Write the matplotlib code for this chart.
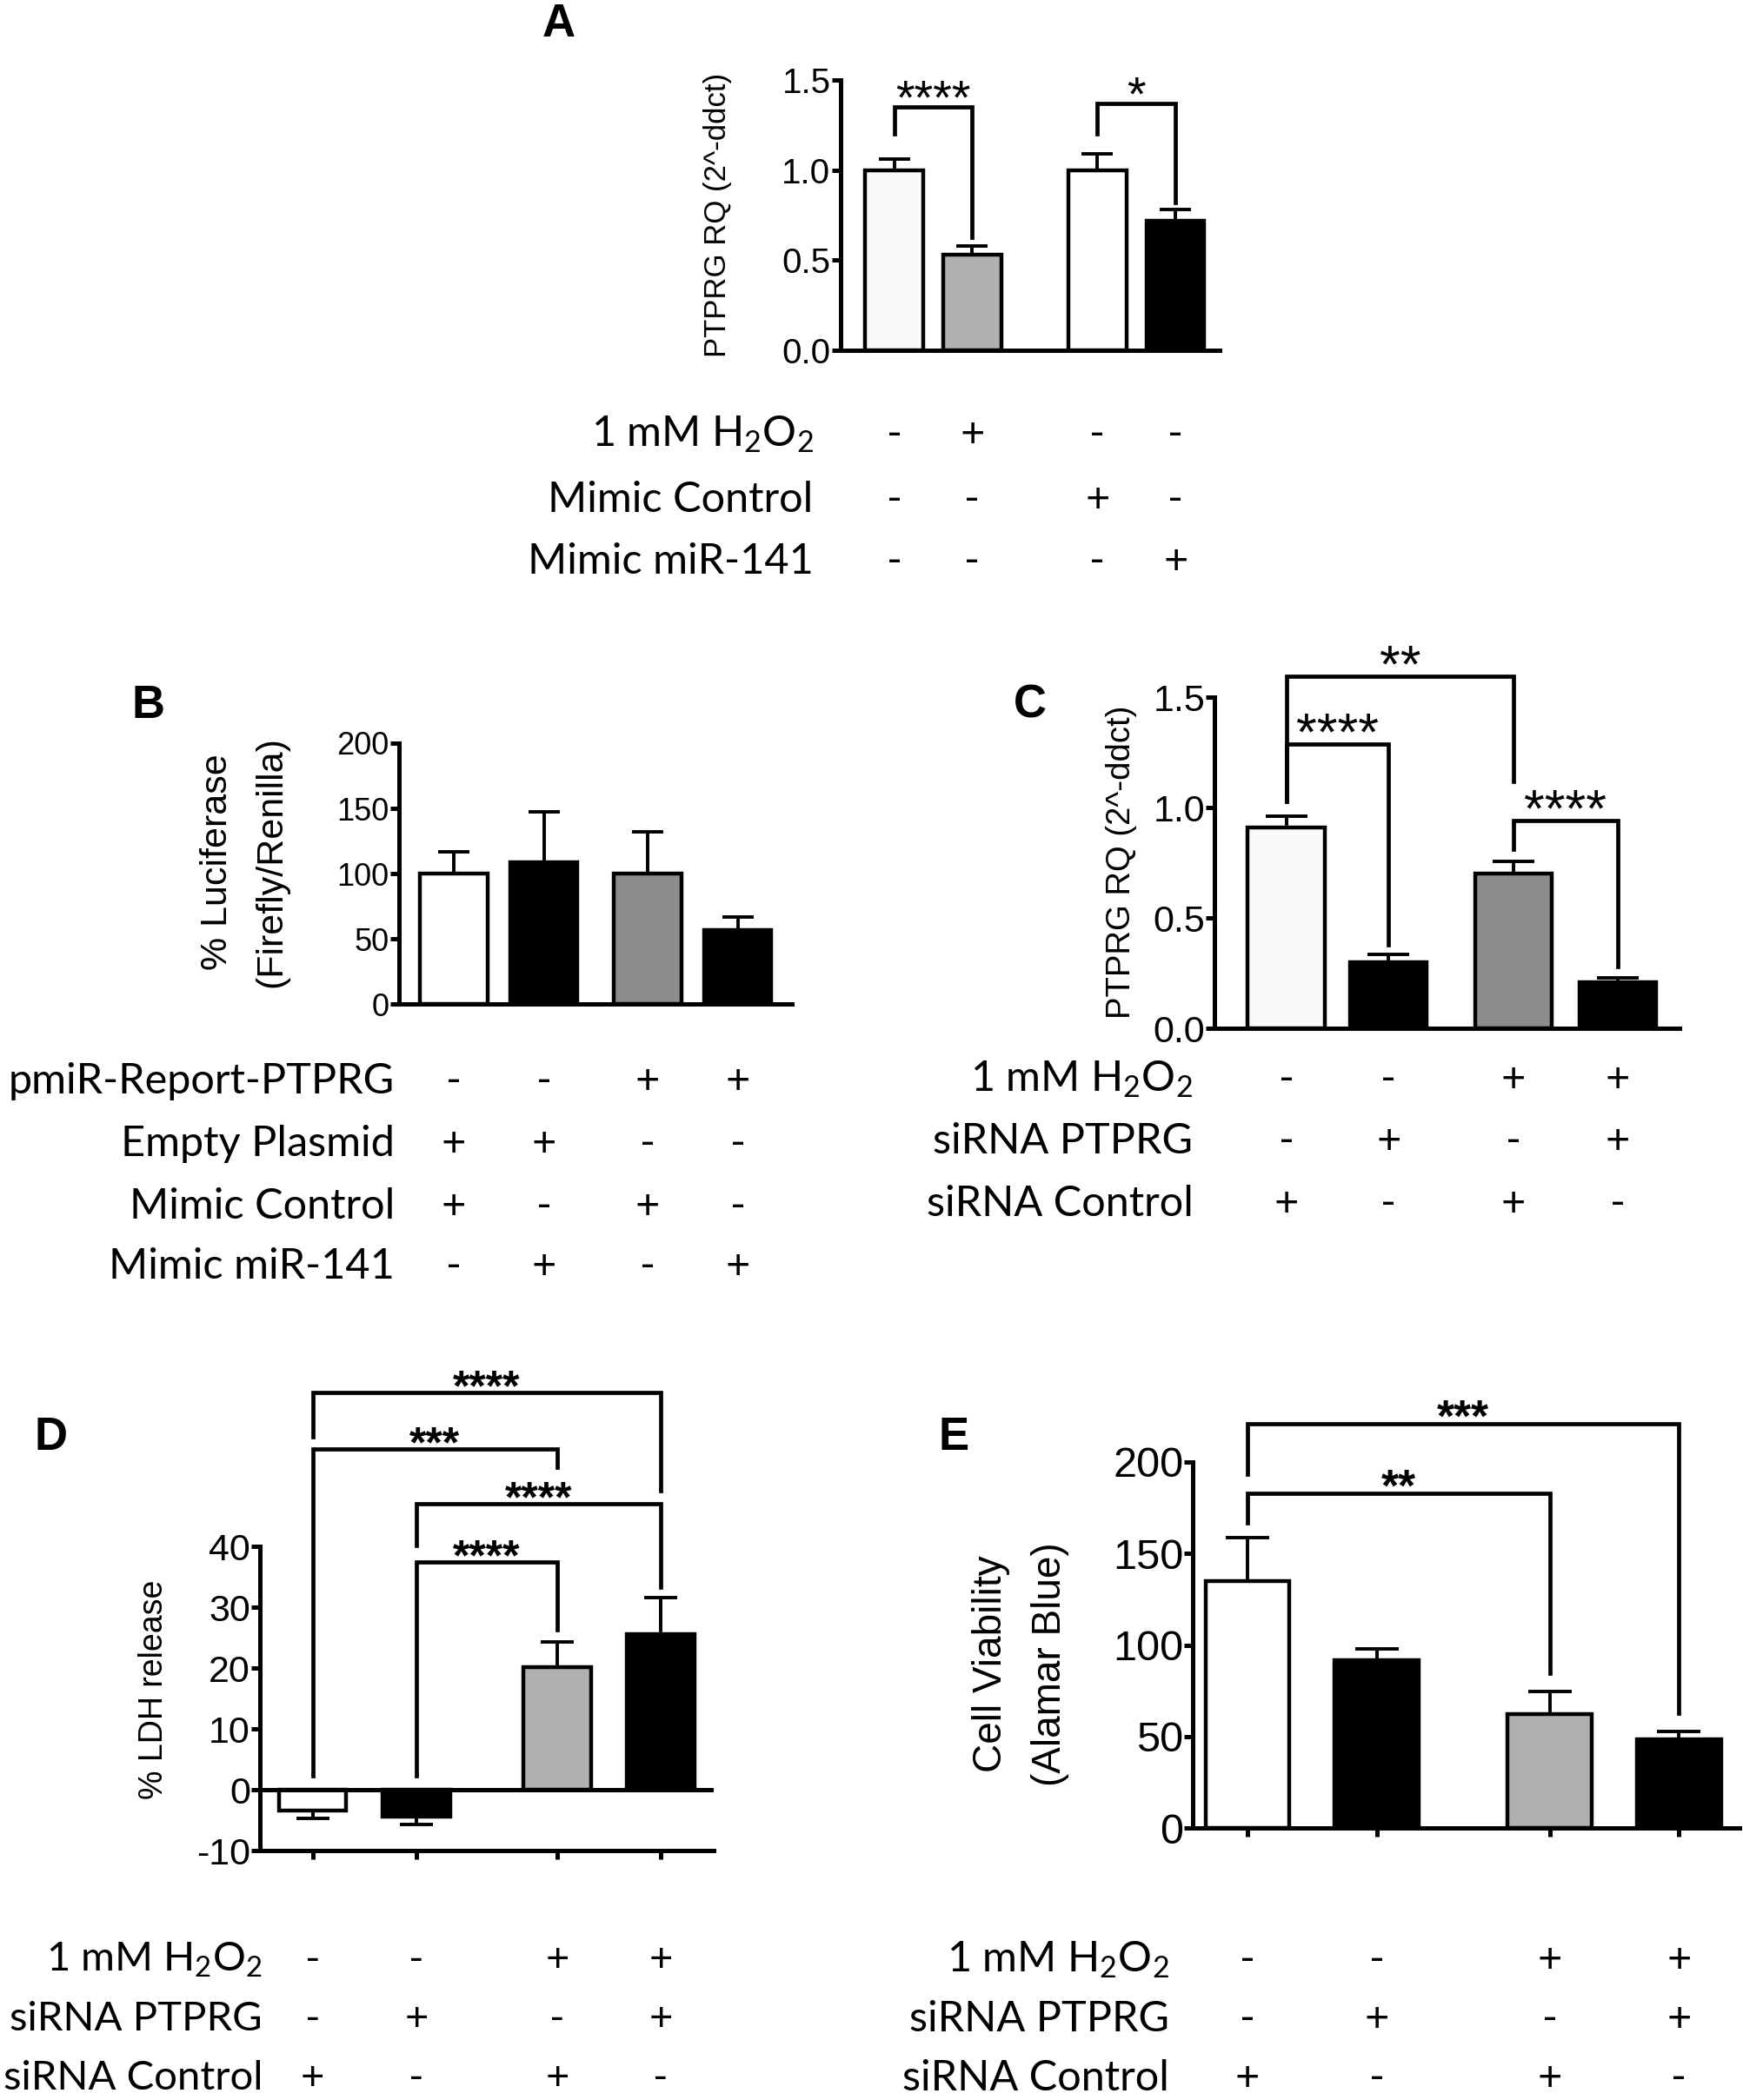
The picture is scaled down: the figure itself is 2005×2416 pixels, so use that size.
import numpy as np
import matplotlib
matplotlib.use("Agg")
import matplotlib.pyplot as plt
import matplotlib.transforms as mtransforms

plt.rcParams['mathtext.default'] = 'regular'

SANS = ['Liberation Sans', 'DejaVu Sans']
COND = ['Lato', 'Open Sans', 'DejaVu Sans']

# ---- data ----
# Panel A
a_pos = [0, 1, 2.6, 3.6]
a_vals = [1.0, 0.53, 1.0, 0.72]
a_err = [0.06, 0.05, 0.09, 0.06]
a_colors = ['#fafafa', '#b0b0b0', '#ffffff', '#000000']
a_rows = ["1 mM H$_2$O$_2$", "Mimic Control", "Mimic miR-141"]
a_signs = [['-', '+', '-', '-'], ['-', '-', '+', '-'], ['-', '-', '-', '+']]
a_brackets = [(0, 1, 1.35, 1.2, 0.625, '****'), (2, 3, 1.37, 1.2, 0.82, '*')]

# Panel B
b_pos = [0, 1, 2.15, 3.15]
b_vals = [100, 109, 100, 57]
b_err = [16.5, 38.5, 32, 10]
b_colors = ['#ffffff', '#000000', '#8c8c8c', '#000000']
b_rows = ["pmiR-Report-PTPRG", "Empty Plasmid", "Mimic Control", "Mimic miR-141"]
b_signs = [['-', '-', '+', '+'], ['+', '+', '-', '-'], ['+', '-', '+', '-'], ['-', '+', '-', '+']]

# Panel C
c_pos = [0, 1, 2.22, 3.24]
c_vals = [0.91, 0.30, 0.70, 0.21]
c_err = [0.05, 0.035, 0.055, 0.02]
c_colors = ['#fafafa', '#000000', '#8c8c8c', '#000000']
c_rows = ["1 mM H$_2$O$_2$", "siRNA PTPRG", "siRNA Control"]
c_signs = [['-', '-', '+', '+'], ['-', '+', '-', '+'], ['+', '-', '+', '-']]
c_brackets = [(0, 2, 1.594, 1.03, 1.12, '**'), (0, 1, 1.29, 1.03, 0.38, '****'),
              (2, 3, 0.94, 0.81, 0.28, '****')]

# Panel D
d_pos = [0, 1, 2.36, 3.36]
d_vals = [-3.4, -4.4, 20.2, 25.6]
d_err = [1.3, 1.2, 4.1, 6.0]
d_colors = ['#ffffff', '#000000', '#b0b0b0', '#000000']
d_rows = ["1 mM H$_2$O$_2$", "siRNA PTPRG", "siRNA Control"]
d_signs = [['-', '-', '+', '+'], ['-', '+', '-', '+'], ['+', '-', '+', '-']]
d_brackets = [(0, 3, 65.4, 58.1, 49.2, '****'), (0, 2, 56.1, 2.4, 53.0, '***'),
              (1, 3, 47.1, 40.2, 33.3, '****'), (1, 2, 37.5, 2.4, 26.3, '****')]

# Panel E
e_pos = [0, 1, 2.34, 3.34]
e_vals = [134.8, 91.5, 62.3, 48.6]
e_err = [23.8, 6.3, 12.1, 4.2]
e_colors = ['#ffffff', '#000000', '#b0b0b0', '#000000']
e_rows = ["1 mM H$_2$O$_2$", "siRNA PTPRG", "siRNA Control"]
e_signs = [['-', '-', '+', '+'], ['-', '+', '-', '+'], ['+', '-', '+', '-']]
e_brackets = [(0, 3, 220.7, 193.3, 62.7, '***'), (0, 2, 182.9, 166.7, 84.7, '**')]

# ---- layout helpers (reference coords, 1295 x 1560) ----
W, H = 1295.0, 1560.0
fig = plt.figure(figsize=(20.06, 24.16), dpi=100)


def make_ax(x0, x1, ytop, ybot):
    return fig.add_axes([x0 / W, 1 - ybot / H, (x1 - x0) / W, (ybot - ytop) / H])


def bar_panel(ax, pos, vals, err, colors, width, ylim, yticks, ticklabels, tsize, capsize):
    ax.bar(pos, vals, width=width, color=colors, edgecolor='black', linewidth=3.2, zorder=3)
    lo = [e if v < 0 else 0 for v, e in zip(vals, err)]
    hi = [0 if v < 0 else e for v, e in zip(vals, err)]
    ax.errorbar(pos, vals, yerr=[lo, hi], fmt='none', ecolor='black', elinewidth=2.8,
                capsize=capsize, capthick=2.8, zorder=2)
    ax.set_ylim(*ylim)
    ax.set_yticks(yticks)
    ax.set_yticklabels(ticklabels, family=SANS, fontsize=tsize)
    for s in ['top', 'right']:
        ax.spines[s].set_visible(False)
    for s in ['left', 'bottom']:
        ax.spines[s].set_linewidth(3.6)
    ax.tick_params(axis='y', length=7, width=3.6, pad=1)
    ax.set_xticks([])


def brackets(ax, pos, brs, size, weight, off=-14):
    for i, j, top, l1, l2, stars in brs:
        ax.plot([pos[i], pos[i], pos[j], pos[j]], [l1, top, top, l2], color='black',
                lw=3.4, clip_on=False, solid_joinstyle='miter', zorder=4)
        ax.annotate(stars, xy=((pos[i] + pos[j]) / 2, top), xytext=(0, off),
                    textcoords='offset points', ha='center', va='bottom',
                    fontsize=size, fontweight=weight, family=SANS, annotation_clip=False)


def conditions(ax, pos, rows, signs, ys, xlab, size):
    tr = mtransforms.blended_transform_factory(ax.transData, fig.transFigure)
    for label, sg, y in zip(rows, signs, ys):
        fig.text(xlab / W, 1 - y / H, label, ha='right', va='center', fontsize=size, family=COND)
        for p, s in zip(pos, sg):
            ax.text(p, 1 - y / H, s, transform=tr, ha='center', va='center',
                    fontsize=size, family=COND, clip_on=False)


def ylabel(x, y, s, size, ls=1.7):
    fig.text(x / W, 1 - y / H, s, rotation=90, ha='center', va='center', fontsize=size,
             family=SANS, linespacing=ls, multialignment='center')


def letter(x, y, s):
    fig.text(x / W, 1 - y / H, s, ha='center', va='center', fontsize=38,
             fontweight='bold', family=SANS)


# ---- Panel A ----
axA = make_ax(624, 906, 59.5, 260)
bar_panel(axA, a_pos, a_vals, a_err, a_colors, 0.74, (0, 1.5), [0, 0.5, 1.0, 1.5],
          ['0.0', '0.5', '1.0', '1.5'], 29, 13)
axA.set_xlim(-0.69, 4.17)
ylabel(533, 160, 'PTPRG RQ (2^-ddct)', 25)
brackets(axA, a_pos, a_brackets, 40, 'normal')
conditions(axA, a_pos, a_rows, a_signs, [323, 371, 417], 604, 35)
letter(415, 18, 'A')

# ---- Panel B ----
axB = make_ax(296, 588, 552, 746)
bar_panel(axB, b_pos, b_vals, b_err, b_colors, 0.75, (0, 200), [0, 50, 100, 150, 200],
          ['0', '50', '100', '150', '200'], 26, 13)
axB.set_xlim(-0.61, 3.75)
ylabel(181.5, 640, '% Luciferase\n(Firefly/Renilla)', 31)
conditions(axB, b_pos, b_rows, b_signs, [803, 850, 896, 941], 293, 35)
letter(110, 524, 'B')

# ---- Panel C ----
axC = make_ax(902, 1247, 518, 764)
bar_panel(axC, c_pos, c_vals, c_err, c_colors, 0.75, (0, 1.5), [0, 0.5, 1.0, 1.5],
          ['0.0', '0.5', '1.0', '1.5'], 31, 17)
axC.set_xlim(-0.70, 3.84)
ylabel(833, 640.5, 'PTPRG RQ (2^-ddct)', 27.5)
brackets(axC, c_pos, c_brackets, 44, 'normal')
conditions(axC, c_pos, c_rows, c_signs, [802, 848, 894], 886, 35)
letter(765, 524, 'C')

# ---- Panel D ----
axD = make_ax(193, 530, 1149, 1375)
bar_panel(axD, d_pos, d_vals, d_err, d_colors, 0.65, (-10, 40), [-10, 0, 10, 20, 30, 40],
          ['-10', '0', '10', '20', '30', '40'], 31, 14)
axD.set_xlim(-0.51, 3.87)
axD.axhline(0, color='black', lw=3.6, zorder=4)
axD.set_xticks(d_pos)
axD.set_xticklabels([])
axD.tick_params(axis='x', length=7, width=3.6)
ylabel(114, 1255, '% LDH release', 27)
brackets(axD, d_pos, d_brackets, 36, 'bold')
conditions(axD, d_pos, d_rows, d_signs, [1456, 1500, 1544], 195, 34)
letter(38, 1068, 'D')

# ---- Panel E ----
axE = make_ax(886, 1292, 1086, 1358)
bar_panel(axE, e_pos, e_vals, e_err, e_colors, 0.65, (0, 200), [0, 50, 100, 150, 200],
          ['0', '50', '100', '150', '200'], 35, 18)
axE.set_xlim(-0.42, 3.81)
axE.set_xticks(e_pos)
axE.set_xticklabels([])
axE.tick_params(axis='x', length=7, width=3.6)
ylabel(758, 1236, 'Cell Viability\n(Alamar Blue)', 33)
brackets(axE, e_pos, e_brackets, 37, 'bold')
conditions(axE, e_pos, e_rows, e_signs, [1456, 1500, 1544], 868, 35)
letter(708, 1068, 'E')

fig.savefig('out.png', dpi=100, facecolor='white')
